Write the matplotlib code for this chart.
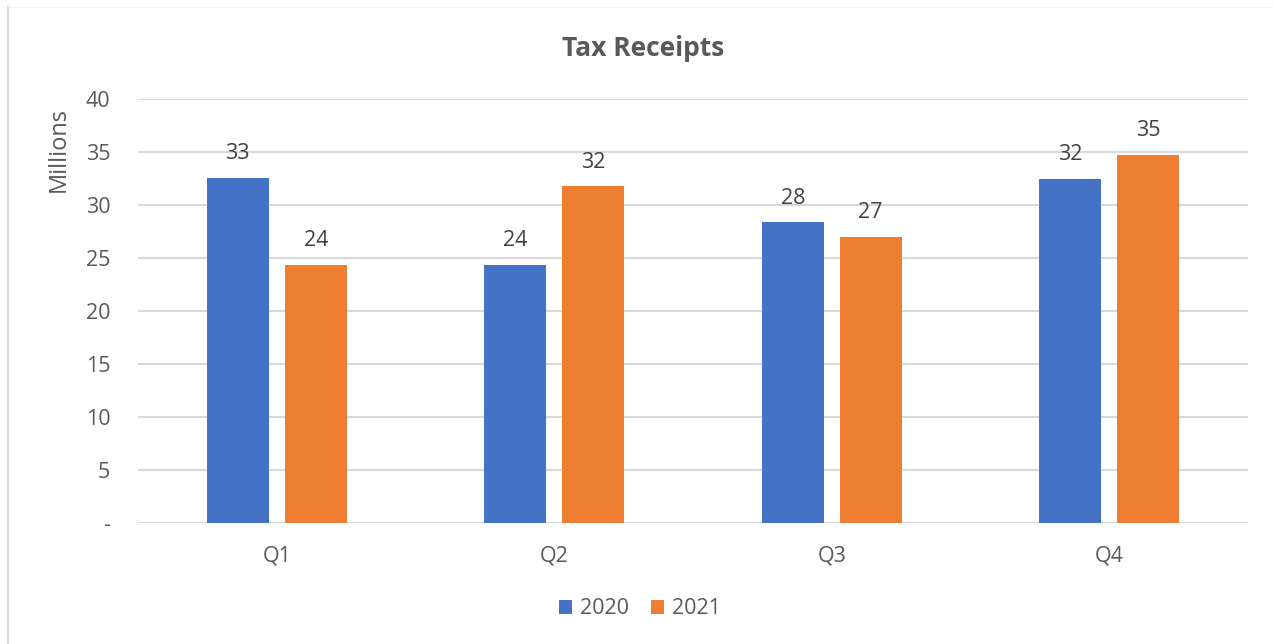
import matplotlib
matplotlib.use("Agg")
from matplotlib import pyplot as plt
from matplotlib.lines import Line2D
import numpy as np

quarters = ["Q1", "Q2", "Q3", "Q4"]
receipts_2020 = [32.52, 24.35, 28.35, 32.45]
receipts_2021 = [24.35, 31.75, 26.98, 34.75]
series_names = ["2020", "2021"]
y_ticks = [0, 5, 10, 15, 20, 25, 30, 35, 40]

BLUE = "#4472c4"
ORANGE = "#ed7d31"
TEXT = "#595959"
GRID = "#d9d9d9"

plt.rcParams["font.family"] = ["Open Sans", "DejaVu Sans"]

fig = plt.figure(figsize=(12.73, 6.44), dpi=100)
ax = fig.add_axes([138 / 1273, 1 - 523 / 644, (1248 - 138) / 1273, (523 - 99) / 644])

x = np.arange(len(quarters))
w = 0.223
off = 0.1405
bars_a = ax.bar(x - off, receipts_2020, w, color=BLUE, label=series_names[0], zorder=3)
bars_b = ax.bar(x + off, receipts_2021, w, color=ORANGE, label=series_names[1], zorder=3)

for bars in (bars_a, bars_b):
    for b in bars:
        h = b.get_height()
        ax.annotate("{:.0f}".format(h), (b.get_x() + b.get_width() / 2, h),
                    xytext=(0, 10), textcoords="offset points",
                    ha="center", va="bottom", fontsize=15.5, color="#404040")

ax.set_xlim(-0.5, 3.5)
ax.set_ylim(0, 40)
ax.set_yticks(y_ticks)
ax.set_yticklabels(["-"] + [str(t) for t in y_ticks[1:]])
ax.set_xticks(x)
ax.set_xticklabels(quarters)
ax.tick_params(axis="both", length=0, labelsize=15.5, labelcolor=TEXT)
ax.tick_params(axis="y", pad=20)
ax.tick_params(axis="x", pad=16)
ax.yaxis.grid(True, color=GRID, linewidth=1.5, zorder=0)
for s in ax.spines.values():
    s.set_visible(False)

fig.text(643 / 1273, 1 - 49 / 644, "Tax Receipts", ha="center", va="center",
         fontsize=19, fontweight="bold", color=TEXT)
fig.text(59 / 1273, 1 - 149 / 644, "Millions", ha="center", va="center",
         rotation=90, fontsize=17, color=TEXT)

leg = fig.legend(loc="center", bbox_to_anchor=(640 / 1273, 1 - 609 / 644),
                 ncol=2, frameon=False, fontsize=15.5, handlelength=0.6,
                 handleheight=0.6, handletextpad=0.4, columnspacing=1.0)
for t in leg.get_texts():
    t.set_color(TEXT)

# light chart border on the left and top
fig.add_artist(Line2D([8 / 1273, 8 / 1273], [0, 1 - 7 / 644], transform=fig.transFigure,
                      color=GRID, linewidth=1.5))
fig.add_artist(Line2D([8 / 1273, 1], [1 - 7 / 644, 1 - 7 / 644], transform=fig.transFigure,
                      color="#f0f0f0", linewidth=1))

fig.savefig("out.png", dpi=100)
